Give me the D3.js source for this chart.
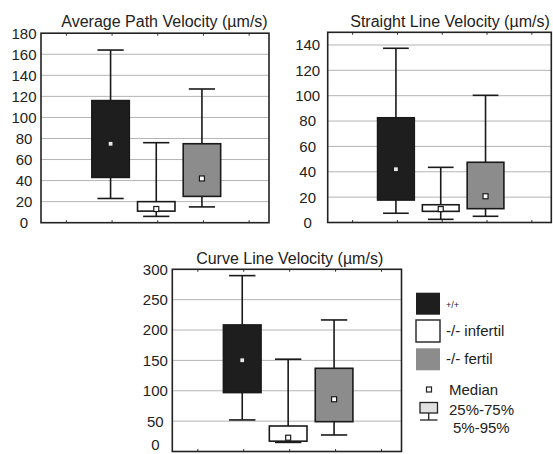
<!DOCTYPE html>
<html><head><meta charset="utf-8">
<script src="https://cdn.jsdelivr.net/npm/d3@7"></script>
<style>html,body{margin:0;padding:0;background:#fff;}svg{display:block;font-family:"Liberation Sans",Arial,sans-serif;}</style>
</head><body><svg id="c" width="553" height="454"></svg>
<script>
// ---- data ----
const groups = ["+/+", "-/- infertil", "-/- fertil"];
const groupFills = ["#1e1e1e", "#ffffff", "#8c8c8c"];

const apvTitle = "Average Path Velocity (µm/s)";
const apvTicks = [0, 20, 40, 60, 80, 100, 120, 140, 160, 180];
const apvP5  = [23, 6, 15];
const apvQ1  = [43, 11, 25];
const apvMed = [75, 13, 42];
const apvQ3  = [116, 20, 75];
const apvP95 = [164, 76, 127];

const slvTitle = "Straight Line Velocity (µm/s)";
const slvTicks = [0, 20, 40, 60, 80, 100, 120, 140];
const slvP5  = [7.3, 2.5, 4.9];
const slvQ1  = [17.7, 8.8, 10.9];
const slvMed = [42, 10.6, 20.7];
const slvQ3  = [82.6, 14, 47.5];
const slvP95 = [137.4, 43.5, 100.3];

const clvTitle = "Curve Line Velocity (µm/s)";
const clvTicks = [0, 50, 100, 150, 200, 250, 300];
const clvP5  = [52, 15, 27.2];
const clvQ1  = [97, 17, 49.1];
const clvMed = [150.2, 22.7, 86];
const clvQ3  = [208.4, 42, 137];
const clvP95 = [289.6, 152, 216.6];

const legendLabels = ["+/+", "-/- infertil", "-/- fertil"];
const legendStatLabels = ["Median", "25%-75%", "5%-95%"];

// ---- layout ----
const panels = [
  {title: apvTitle, ticks: apvTicks, ymax: 180, p5: apvP5, q1: apvQ1, med: apvMed, q3: apvQ3, p95: apvP95,
   x0: 41, x1: 269, y0: 222.7, y1: 33.2, labelDx: -17, titleX: 164.5, titleY: 27},
  {title: slvTitle, ticks: slvTicks, ymax: 150, p5: slvP5, q1: slvQ1, med: slvMed, q3: slvQ3, p95: slvP95,
   x0: 327.7, x1: 551.3, y0: 222.5, y1: 32.3, labelDx: -20, titleX: 450, titleY: 27},
  {title: clvTitle, ticks: clvTicks, ymax: 300, p5: clvP5, q1: clvQ1, med: clvMed, q3: clvQ3, p95: clvP95,
   x0: 172.3, x1: 401.5, y0: 451.5, y1: 269.3, labelDx: -17, titleX: 289.7, titleY: 263.5}
];

const svg = d3.select("#c");
svg.append("rect").attr("width", 553).attr("height", 454).attr("fill", "#fff");

panels.forEach(p => {
  const w = p.x1 - p.x0;
  const g = svg.append("g").attr("transform", `translate(${p.x0},0)`);
  const y = d3.scaleLinear().domain([0, p.ymax]).range([p.y0, p.y1]);
  const x = d3.scaleBand().domain(groups).range([0.223 * w, 0.788 * w]).paddingInner(0.18).paddingOuter(0);
  const bw = x.bandwidth();
  const cap = bw * 0.7;

  // gridlines
  g.selectAll("line.grid").data(p.ticks.filter(t => t > 0 && t < p.ymax)).join("line")
    .attr("class", "grid")
    .attr("x1", 0).attr("x2", w)
    .attr("y1", d => y(d)).attr("y2", d => y(d))
    .attr("stroke", "#b4b4b4").attr("stroke-width", 1);

  // tick labels (kept inside the picture)
  g.selectAll("text.tl").data(p.ticks).join("text")
    .attr("class", "tl")
    .attr("x", p.labelDx).attr("y", d => Math.min(y(d), 444.5)).attr("dy", "0.36em")
    .attr("text-anchor", "middle").attr("font-size", 15).attr("fill", "#222")
    .text(d => d);

  // small x tick marks at slot positions
  const step = x.step();
  const slots = [-1, 0, 1, 2, 3].map(i => x(groups[0]) + bw / 2 + i * step + 1.5);
  slots.forEach(sx => {
    g.append("line").attr("x1", sx).attr("x2", sx).attr("y1", p.y1).attr("y2", p.y1 + 2.5)
      .attr("stroke", "#333").attr("stroke-width", 1);
    g.append("line").attr("x1", sx).attr("x2", sx).attr("y1", p.y0).attr("y2", p.y0 - 2.5)
      .attr("stroke", "#333").attr("stroke-width", 1);
  });

  // boxes
  groups.forEach((grp, i) => {
    const cx = x(grp) + bw / 2;
    const bg = g.append("g");
    bg.append("line").attr("x1", cx).attr("x2", cx).attr("y1", y(p.q1[i])).attr("y2", y(p.p5[i]))
      .attr("stroke", "#1a1a1a").attr("stroke-width", 1.6);
    bg.append("line").attr("x1", cx).attr("x2", cx).attr("y1", y(p.p95[i])).attr("y2", y(p.q3[i]))
      .attr("stroke", "#1a1a1a").attr("stroke-width", 1.6);
    [p.p95[i], p.p5[i]].forEach(v => {
      bg.append("line").attr("x1", cx - cap / 2).attr("x2", cx + cap / 2).attr("y1", y(v)).attr("y2", y(v))
        .attr("stroke", "#1a1a1a").attr("stroke-width", 1.6);
    });
    bg.append("rect").attr("x", x(grp)).attr("width", bw)
      .attr("y", y(p.q3[i])).attr("height", y(p.q1[i]) - y(p.q3[i]))
      .attr("fill", groupFills[i]).attr("stroke", "#1a1a1a").attr("stroke-width", 1.6);
    bg.append("rect").attr("x", cx - 2.5).attr("y", y(p.med[i]) - 2.5).attr("width", 5).attr("height", 5)
      .attr("fill", i === 0 ? "#e8e8e8" : "#fff").attr("stroke", "#1a1a1a").attr("stroke-width", 1.2);
  });

  // frame
  g.append("rect").attr("x", 0).attr("y", p.y1).attr("width", w).attr("height", p.y0 - p.y1)
    .attr("fill", "none").attr("stroke", "#222").attr("stroke-width", 1.6);

  // title
  svg.append("text").attr("x", p.titleX).attr("y", p.titleY).attr("text-anchor", "middle")
    .attr("font-size", 16).attr("fill", "#222").text(p.title);
});

// ---- legend ----
const lg = svg.append("g");
const legY = [292.7, 320, 348.3];
legendLabels.forEach((lab, i) => {
  lg.append("rect").attr("x", 416).attr("y", legY[i]).attr("width", 24).attr("height", 22)
    .attr("fill", groupFills[i]).attr("stroke", i === 1 ? "#222" : "none").attr("stroke-width", 1.4);
  lg.append("text").attr("x", 446).attr("y", legY[i] + 15.5)
    .attr("font-size", i === 0 ? 9 : 15).attr("fill", "#222").text(lab);
});
// median symbol
lg.append("rect").attr("x", 426.5).attr("y", 387).attr("width", 5).attr("height", 5)
  .attr("fill", "#fff").attr("stroke", "#222").attr("stroke-width", 1.2);
// box symbol
lg.append("rect").attr("x", 420).attr("y", 402.5).attr("width", 17.5).attr("height", 10.5)
  .attr("fill", "#e0e0e0").attr("stroke", "#222").attr("stroke-width", 1.3);
lg.append("line").attr("x1", 428.7).attr("x2", 428.7).attr("y1", 413).attr("y2", 420)
  .attr("stroke", "#222").attr("stroke-width", 1.3);
lg.append("line").attr("x1", 420).attr("x2", 437.5).attr("y1", 420).attr("y2", 420)
  .attr("stroke", "#222").attr("stroke-width", 1.3);
lg.append("text").attr("x", 449).attr("y", 394.5).attr("font-size", 15).attr("fill", "#222").text(legendStatLabels[0]);
lg.append("text").attr("x", 449).attr("y", 414.5).attr("font-size", 15).attr("fill", "#222").text(legendStatLabels[1]);
lg.append("text").attr("x", 453).attr("y", 433).attr("font-size", 15).attr("fill", "#222").text(legendStatLabels[2]);
</script></body></html>
